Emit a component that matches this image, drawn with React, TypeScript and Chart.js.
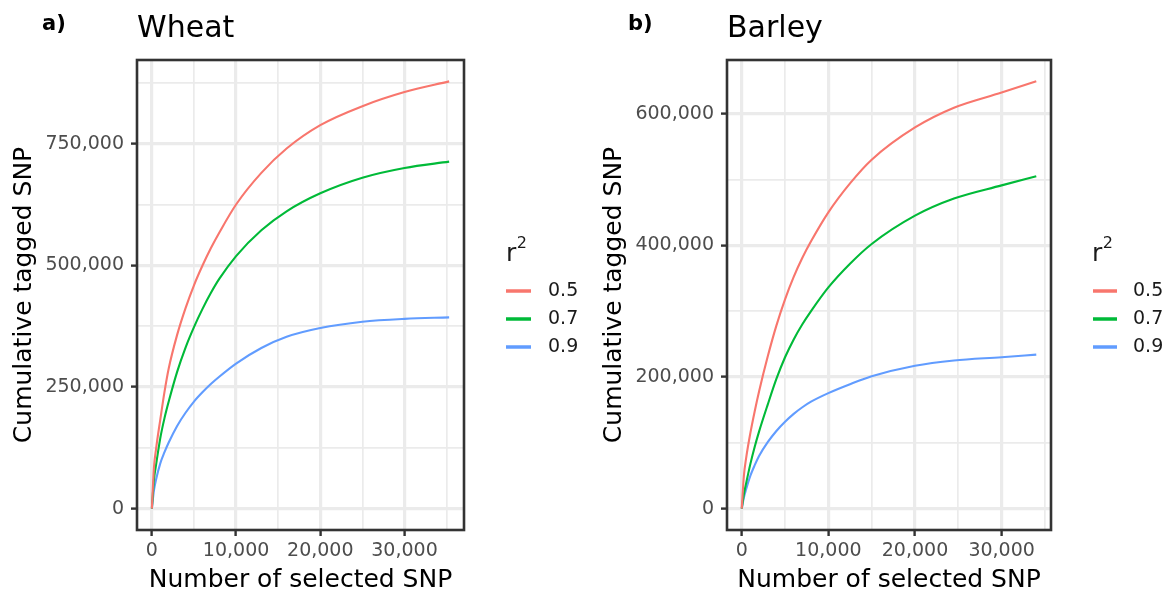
import React, { useEffect, useRef } from "react";
import { Chart, registerables } from "chart.js";

Chart.register(...registerables);
Chart.defaults.font.family = "'DejaVu Sans', sans-serif";

// ---------- data ----------
const SERIES_LABELS = ["0.5", "0.7", "0.9"];
const SERIES_COLORS = ["#F8766D", "#00BA38", "#619CFF"];

const WHEAT_X = [0, 250, 500, 1000, 1500, 2000, 3000, 4000, 5000, 6000, 7000, 8000, 10000, 13000, 16000, 20000, 25000, 30000, 35300];
const WHEAT_R05 = [0, 85000, 123000, 183000, 240000, 288000, 357000, 412000, 459000, 499000, 535000, 567000, 625000, 690000, 740000, 788000, 827000, 856000, 878000];
const WHEAT_R07 = [0, 60000, 90000, 145000, 186000, 220000, 281000, 331000, 373000, 410000, 443000, 472000, 519000, 572000, 611000, 648000, 680000, 700000, 713000];
const WHEAT_R09 = [0, 38000, 60000, 93000, 116000, 136000, 170000, 197000, 220000, 239000, 256000, 271000, 298000, 330000, 353000, 371000, 384000, 390000, 393000];

const BARLEY_X = [0, 250, 500, 1000, 1500, 2000, 3000, 4000, 5000, 6000, 7000, 8000, 10000, 12500, 15000, 20000, 24500, 30000, 34000];
const BARLEY_R05 = [0, 50000, 76000, 115000, 148000, 178000, 231000, 278000, 318000, 352000, 381000, 406000, 450000, 494000, 530000, 579000, 609000, 632000, 649000];
const BARLEY_R07 = [0, 22000, 38000, 68000, 94000, 117000, 158000, 197000, 230000, 257000, 280000, 300000, 336000, 372000, 402000, 445000, 471000, 491000, 505000];
const BARLEY_R09 = [0, 17000, 29000, 50000, 66000, 80000, 101000, 118000, 132000, 144000, 154000, 162500, 175500, 189000, 201000, 217000, 225000, 230000, 234000];

// gridline / tick positions (labelled every other one, ggplot-style minor lines between)
const X_TICKS = [0, 5000, 10000, 15000, 20000, 25000, 30000, 35000];
const X_LABEL_STEP = 10000;
const WHEAT_Y_TICKS = [0, 125000, 250000, 375000, 500000, 625000, 750000, 875000];
const WHEAT_Y_LABEL_STEP = 250000;
const BARLEY_Y_TICKS = [0, 100000, 200000, 300000, 400000, 500000, 600000];
const BARLEY_Y_LABEL_STEP = 200000;

const X_TITLE = "Number of selected SNP";
const Y_TITLE = "Cumulative tagged SNP";
const LEGEND_TITLE = "r";
const LEGEND_TITLE_SUP = "2";

type PanelSpec = {
  tag: string;
  tagX: number;
  title: string;
  left: number;
  width: number;
  padRight: number;
  xs: number[];
  series: number[][];
  yTicks: number[];
  yLabelStep: number;
  legend: { rX: number; sx0: number; sx1: number; tx: number };
};

const PANELS: PanelSpec[] = [
  {
    tag: "a)",
    tagX: 42,
    title: "Wheat",
    left: 0,
    width: 590,
    padRight: 126,
    xs: WHEAT_X,
    series: [WHEAT_R05, WHEAT_R07, WHEAT_R09],
    yTicks: WHEAT_Y_TICKS,
    yLabelStep: WHEAT_Y_LABEL_STEP,
    legend: { rX: 506, sx0: 506, sx1: 531, tx: 548 },
  },
  {
    tag: "b)",
    tagX: 38,
    title: "Barley",
    left: 590,
    width: 581,
    padRight: 120,
    xs: BARLEY_X,
    series: [BARLEY_R05, BARLEY_R07, BARLEY_R09],
    yTicks: BARLEY_Y_TICKS,
    yLabelStep: BARLEY_Y_LABEL_STEP,
    legend: { rX: 502, sx0: 503, sx1: 527, tx: 543 },
  },
];

const fmt = (v: number) => Math.round(v).toLocaleString("en-US");

function Panel({ spec }: { spec: PanelSpec }) {
  const ref = useRef<HTMLCanvasElement | null>(null);

  useEffect(() => {
    if (!ref.current) return;
    const xMaxData = Math.max(...spec.xs);
    const yMaxData = Math.max(...spec.series.flat());
    const xExp = xMaxData * 0.05;
    const yExp = yMaxData * 0.05;

    const decor = {
      id: "decor",
      afterDatasetsDraw(chart: any) {
        const { ctx, chartArea: a } = chart;
        ctx.save();
        ctx.strokeStyle = "#333333";
        ctx.lineWidth = 2.6;
        ctx.strokeRect(a.left, a.top, a.right - a.left, a.bottom - a.top);
        ctx.restore();
      },
      afterDraw(chart: any) {
        const { ctx } = chart;
        ctx.save();
        ctx.fillStyle = "#000";
        ctx.font = "bold 21px 'DejaVu Sans'";
        ctx.textBaseline = "middle";
        ctx.textAlign = "left";
        ctx.fillText(spec.tag, spec.tagX, 25);
        const L = spec.legend;
        ctx.fillStyle = "#1a1a1a";
        ctx.textBaseline = "alphabetic";
        ctx.font = "25px 'DejaVu Sans'";
        ctx.fillText(LEGEND_TITLE, L.rX, 261);
        const rw = ctx.measureText(LEGEND_TITLE).width;
        ctx.font = "16px 'DejaVu Sans'";
        ctx.fillText(LEGEND_TITLE_SUP, L.rX + rw + 0.5, 248);
        chart.data.datasets.forEach((ds: any, i: number) => {
          const y = 291 + i * 28;
          ctx.strokeStyle = ds.borderColor;
          ctx.lineWidth = 3.5;
          ctx.beginPath();
          ctx.moveTo(L.sx0, y);
          ctx.lineTo(L.sx1, y);
          ctx.stroke();
          ctx.fillStyle = "#1a1a1a";
          ctx.font = "19px 'DejaVu Sans'";
          ctx.textBaseline = "middle";
          ctx.fillText(ds.label, L.tx, y);
        });
        ctx.restore();
      },
    };

    const isMajorX = (v: number) => Math.abs(v % X_LABEL_STEP) < 1e-6;
    const isMajorY = (v: number) => Math.abs(v % spec.yLabelStep) < 1e-6;

    const chart = new Chart(ref.current, {
      type: "line",
      data: {
        datasets: spec.series.map((ys, i) => ({
          label: SERIES_LABELS[i],
          data: spec.xs.map((x, j) => ({ x, y: ys[j] })),
          borderColor: SERIES_COLORS[i],
          backgroundColor: SERIES_COLORS[i],
          borderWidth: 2.1,
          pointRadius: 0,
          cubicInterpolationMode: "monotone" as const,
          fill: false,
        })),
      },
      options: {
        responsive: false,
        animation: false,
        devicePixelRatio: 1,
        layout: { padding: { left: 0, top: 0, right: spec.padRight, bottom: 0 } },
        plugins: {
          legend: { display: false },
          tooltip: { enabled: false },
          title: {
            display: true,
            text: spec.title,
            align: "start",
            fullSize: false,
            color: "#000",
            font: { size: 30, weight: "normal" as const },
            padding: { top: 11.5, bottom: 12.5 },
          },
        },
        scales: {
          x: {
            type: "linear",
            position: "bottom",
            min: -xExp,
            max: xMaxData + xExp,
            afterBuildTicks: (s: any) => {
              s.ticks = X_TICKS.map((v) => ({ value: v }));
            },
            afterFit: (s: any) => {
              s.height = 67;
            },
            border: { display: false },
            grid: {
              color: "#EBEBEB",
              lineWidth: (c: any) => (c.tick && isMajorX(c.tick.value) ? 3.2 : 1.7),
              tickLength: 6,
              tickWidth: 2.4,
              tickColor: (c: any) => (c.tick && isMajorX(c.tick.value) ? "#333333" : "rgba(0,0,0,0)"),
            },
            ticks: {
              autoSkip: false,
              maxRotation: 0,
              padding: 4,
              color: "#4D4D4D",
              font: { size: 19 },
              callback: (v: any) => (isMajorX(Number(v)) ? fmt(Number(v)) : ""),
            },
            title: {
              display: true,
              text: X_TITLE,
              color: "#000",
              font: { size: 25 },
              padding: { top: 0, bottom: 2 },
            },
          },
          y: {
            type: "linear",
            min: -yExp,
            max: yMaxData + yExp,
            afterBuildTicks: (s: any) => {
              s.ticks = spec.yTicks.map((v) => ({ value: v }));
            },
            afterFit: (s: any) => {
              s.width = 137;
            },
            border: { display: false },
            grid: {
              color: "#EBEBEB",
              lineWidth: (c: any) => (c.tick && isMajorY(c.tick.value) ? 3.2 : 1.7),
              tickLength: 6,
              tickWidth: 2.4,
              tickColor: (c: any) => (c.tick && isMajorY(c.tick.value) ? "#333333" : "rgba(0,0,0,0)"),
            },
            ticks: {
              autoSkip: false,
              padding: 7,
              color: "#4D4D4D",
              font: { size: 19 },
              callback: (v: any) => (isMajorY(Number(v)) ? fmt(Number(v)) : ""),
            },
            title: {
              display: true,
              text: Y_TITLE,
              color: "#000",
              font: { size: 25 },
              padding: { top: 9, bottom: 0 },
            },
          },
        },
      },
      plugins: [decor],
    } as any);

    return () => chart.destroy();
  }, [spec]);

  return (
    <canvas
      ref={ref}
      width={spec.width}
      height={597}
      style={{ position: "absolute", left: spec.left, top: 0, display: "block" }}
    />
  );
}

export default function App() {
  return (
    <div
      style={{
        position: "absolute",
        left: 0,
        top: 0,
        width: 1171,
        height: 597,
        background: "#ffffff",
        overflow: "hidden",
      }}
    >
      {PANELS.map((p) => (
        <Panel key={p.tag} spec={p} />
      ))}
    </div>
  );
}
